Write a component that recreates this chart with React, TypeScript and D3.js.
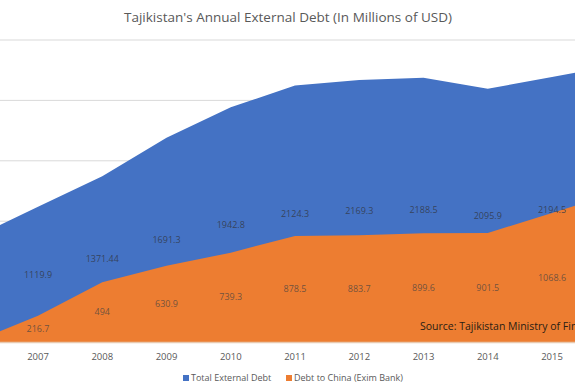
import React from "react";
import * as d3 from "d3";

const years = [2006, 2007, 2008, 2009, 2010, 2011, 2012, 2013, 2014, 2015, 2016];
const totalDebt = [865, 1119.9, 1371.44, 1691.3, 1942.8, 2124.3, 2169.3, 2188.5, 2095.9, 2194.5, 2290];
const chinaDebt = [0, 216.7, 494, 630.9, 739.3, 878.5, 883.7, 899.6, 901.5, 1068.6, 1236];
const totalLabels = ["", "1119.9", "1371.44", "1691.3", "1942.8", "2124.3", "2169.3", "2188.5", "2095.9", "2194.5", ""];
const chinaLabels = ["", "216.7", "494", "630.9", "739.3", "878.5", "883.7", "899.6", "901.5", "1068.6", ""];
const tickYears = [2007, 2008, 2009, 2010, 2011, 2012, 2013, 2014, 2015];
const gridValues = [0, 500, 1000, 1500, 2000, 2500];
const title = "Tajikistan's Annual External Debt (In Millions of USD)";
const source = "Source: Tajikistan Ministry of Finance";
const legendNames = ["Total External Debt", "Debt to China (Exim Bank)"];

const W = 575;
const H = 390;
const BLUE = "#4472C4";
const ORANGE = "#ED7D31";
const FONT = "'Open Sans', 'Liberation Sans', sans-serif";

export default function App() {
  const x = d3.scaleLinear().domain([2007, 2015]).range([38, 552]);
  const y = d3.scaleLinear().domain([0, 2500]).range([342, 40]);

  const idx = years.map((_, i) => i);
  const areaTotal = d3
    .area<number>()
    .x((i) => x(years[i]))
    .y0(y(0))
    .y1((i) => y(totalDebt[i]))
    .curve(d3.curveLinear);
  const areaChina = d3
    .area<number>()
    .x((i) => x(years[i]))
    .y0(y(0))
    .y1((i) => y(chinaDebt[i]))
    .curve(d3.curveLinear);

  return (
    <svg
      width={W}
      height={H}
      style={{ position: "fixed", left: 0, top: 0, background: "#fff" }}
      fontFamily={FONT}
    >
      <rect x={0} y={0} width={W} height={H} fill="#fff" />
      <text x={288} y={22} textAnchor="middle" fontSize={13.5} fill="#595959">
        {title}
      </text>
      {gridValues.map((v) => (
        <line key={v} x1={0} x2={W} y1={y(v)} y2={y(v)} stroke="#d9d9d9" strokeWidth={1} />
      ))}
      <path d={areaTotal(idx) || ""} fill={BLUE} />
      <path d={areaChina(idx) || ""} fill={ORANGE} />
      <line x1={0} x2={W} y1={y(0) + 0.5} y2={y(0) + 0.5} stroke="#e8c9b0" strokeWidth={1.5} />
      {idx.map((i) =>
        totalLabels[i] ? (
          <text
            key={"t" + i}
            x={x(years[i])}
            y={y(totalDebt[i] / 2)}
            dy="0.35em"
            textAnchor="middle"
            fontSize={9}
            fill="#333a4a"
            fillOpacity={0.85}
          >
            {totalLabels[i]}
          </text>
        ) : null
      )}
      {idx.map((i) =>
        chinaLabels[i] ? (
          <text
            key={"c" + i}
            x={x(years[i])}
            y={y(chinaDebt[i] / 2)}
            dy="0.35em"
            textAnchor="middle"
            fontSize={9}
            fill="#5a4a40"
            fillOpacity={0.85}
          >
            {chinaLabels[i]}
          </text>
        ) : null
      )}
      <text x={420} y={326} dy="0.35em" fontSize={10.5} fontWeight={500} fill="#2a1e14">
        {source}
      </text>
      {tickYears.map((t) => (
        <text key={t} x={x(t)} y={357} dy="0.35em" textAnchor="middle" fontSize={9.5} fill="#595959">
          {t}
        </text>
      ))}
      <g fontSize={9} fill="#595959">
        <rect x={183} y={375} width={6} height={6} fill={BLUE} />
        <text x={191} y={378} dy="0.35em">
          {legendNames[0]}
        </text>
        <rect x={286} y={375} width={6} height={6} fill={ORANGE} />
        <text x={294} y={378} dy="0.35em">
          {legendNames[1]}
        </text>
      </g>
    </svg>
  );
}
